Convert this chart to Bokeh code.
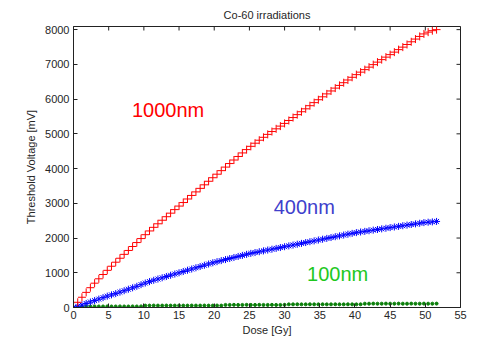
import math
from bokeh.plotting import figure
from bokeh.models import Range1d, Label, FixedTicker
from bokeh.embed import file_html
from bokeh.resources import INLINE

# ---- data ----
dose = [0.0, 0.6, 1.2, 1.8, 2.4, 3.0, 3.6, 4.2, 4.8, 5.4,
        6.0, 6.6, 7.2, 7.8, 8.4, 9.0, 9.6, 10.2, 10.8, 11.4,
        12.0, 12.6, 13.2, 13.8, 14.4, 15.0, 15.6, 16.2, 16.8, 17.4,
        18.0, 18.6, 19.2, 19.8, 20.4, 21.0, 21.6, 22.2, 22.8, 23.4,
        24.0, 24.6, 25.2, 25.8, 26.4, 27.0, 27.6, 28.2, 28.8, 29.4,
        30.0, 30.6, 31.2, 31.8, 32.4, 33.0, 33.6, 34.2, 34.8, 35.4,
        36.0, 36.6, 37.2, 37.8, 38.4, 39.0, 39.6, 40.2, 40.8, 41.4,
        42.0, 42.6, 43.2, 43.8, 44.4, 45.0, 45.6, 46.2, 46.8, 47.4,
        48.0, 48.6, 49.2, 49.8, 50.4, 51.0, 51.6]

v_1000nm = [0, 150, 295, 435, 570, 700, 826, 950, 1070, 1188,
            1304, 1418, 1530, 1642, 1756, 1870, 1984, 2096, 2204, 2308,
            2410, 2512, 2614, 2716, 2818, 2920, 3022, 3124, 3226, 3328,
            3430, 3532, 3634, 3736, 3838, 3940, 4042, 4144, 4246, 4348,
            4450, 4546, 4640, 4730, 4816, 4900, 4984, 5066, 5144, 5222,
            5300, 5384, 5468, 5552, 5636, 5720, 5810, 5898, 5982, 6066,
            6150, 6234, 6316, 6394, 6472, 6550, 6628, 6704, 6776, 6848,
            6920, 6992, 7064, 7136, 7208, 7280, 7352, 7424, 7496, 7572,
            7650, 7728, 7804, 7876, 7928, 7970, 8000]

v_400nm = [0, 36, 74, 116, 158, 200, 242, 284, 326, 364,
           400, 442, 484, 526, 568, 610, 658, 704, 746, 784,
           820, 856, 892, 928, 964, 1000, 1036, 1072, 1108, 1144,
           1180, 1216, 1252, 1288, 1320, 1350, 1380, 1410, 1440, 1470,
           1500, 1530, 1558, 1582, 1606, 1630, 1654, 1678, 1702, 1726,
           1750, 1774, 1798, 1822, 1846, 1870, 1894, 1918, 1942, 1966,
           1990, 2014, 2038, 2062, 2086, 2110, 2134, 2156, 2174, 2192,
           2210, 2228, 2246, 2264, 2282, 2300, 2318, 2336, 2354, 2372,
           2390, 2408, 2426, 2444, 2456, 2465, 2478]

v_100nm = [0, 15, 25, 30, 30, 32, 30, 30, 32, 30,
           30, 32, 30, 30, 32, 30, 32, 55, 55, 57,
           55, 55, 57, 55, 55, 57, 55, 55, 57, 55,
           55, 57, 55, 55, 57, 55, 75, 75, 77, 75,
           75, 77, 75, 75, 77, 75, 75, 77, 75, 75,
           77, 90, 90, 92, 90, 90, 92, 90, 90, 92,
           90, 90, 92, 90, 90, 92, 90, 90, 92, 110,
           110, 112, 110, 110, 112, 110, 110, 112, 110, 110,
           112, 110, 110, 112, 110, 110, 112]

x_ticks = [0, 5, 10, 15, 20, 25, 30, 35, 40, 45, 50, 55]
y_ticks = [0, 1000, 2000, 3000, 4000, 5000, 6000, 7000, 8000]
X_MAX = 55
Y_MAX = 8090

FONT = "Liberation Sans"
TXT = "#262626"
AX = "#222222"

p = figure(width=477, height=338, output_backend="svg", toolbar_location=None,
           x_range=Range1d(0, X_MAX), y_range=Range1d(0, Y_MAX),
           min_border_left=73, min_border_right=17, min_border_top=25,
           min_border_bottom=31, background_fill_color="white",
           border_fill_color="white", outline_line_color=AX,
           title="Co-60 irradiations", x_axis_label="Dose [Gy]",
           y_axis_label="Threshold Voltage [mV]")

p.title.align = "center"
p.title.text_font = FONT
p.title.text_font_size = "11px"
p.title.text_font_style = "normal"
p.title.text_color = TXT
p.title.standoff = 12
p.title.offset = 0

p.xgrid.visible = False
p.ygrid.visible = False

for ax, ticks in ((p.xaxis[0], x_ticks), (p.yaxis[0], y_ticks)):
    ax.ticker = FixedTicker(ticks=ticks)
    ax.minor_tick_line_color = None
    ax.major_tick_in = 4
    ax.major_tick_out = 0
    ax.axis_line_color = AX
    ax.major_tick_line_color = AX
    ax.major_label_text_font = FONT
    ax.major_label_text_font_size = "11px"
    ax.major_label_text_color = TXT
    ax.axis_label_text_font = FONT
    ax.axis_label_text_font_size = "11px"
    ax.axis_label_text_font_style = "normal"
    ax.axis_label_text_color = TXT
    ax.major_label_standoff = 3
    ax.axis_label_standoff = 2
p.yaxis[0].major_label_standoff = 4
p.yaxis[0].axis_label_standoff = 5

# inward tick marks on the top and right edges of the box (half clipped by frame)
p.scatter(x_ticks, [Y_MAX] * len(x_ticks), marker="dash", size=8,
          angle=math.pi / 2, line_color=AX, line_width=1)
p.scatter([X_MAX] * len(y_ticks), y_ticks, marker="dash", size=8,
          line_color=AX, line_width=1)

# series
p.scatter(dose, v_100nm, marker="circle", size=3, fill_color="#0b7f0b",
          line_color="#0b7f0b")
p.scatter(dose, v_400nm, marker="asterisk", size=7, line_color="#0000ff",
          line_width=1)
p.scatter(dose, v_1000nm, marker="cross", size=8, line_color="#ff0000",
          line_width=1)

# annotations
for txt, x, y, col in (("1000nm", 8.3, 5680, "#ff0000"),
                       ("400nm", 28.45, 2880, "#4040cc"),
                       ("100nm", 33.2, 975, "#1ec81e")):
    p.add_layout(Label(x=x, y=y, text=txt, text_color=col, text_font=FONT,
                       text_font_size="20px", text_baseline="alphabetic",
                       text_align="left"))

open("out.html", "w").write(file_html(p, INLINE))
